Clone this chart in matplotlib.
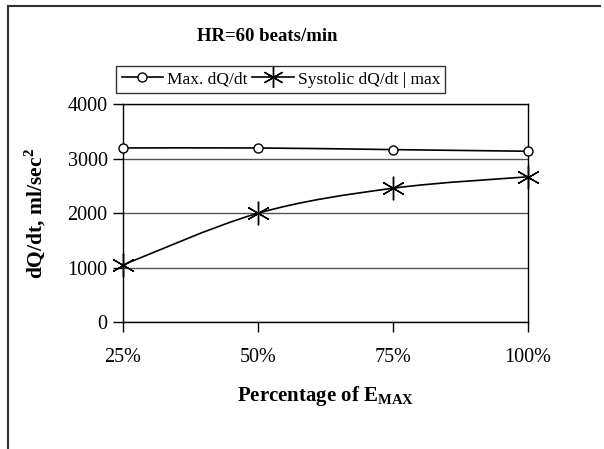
import matplotlib
matplotlib.use("Agg")
import matplotlib.pyplot as plt
from matplotlib.path import Path
from matplotlib.patches import PathPatch
from matplotlib.lines import Line2D
import numpy as np

plt.rcParams['font.family'] = ['Liberation Serif', 'DejaVu Serif']
plt.rcParams['mathtext.fontset'] = 'custom'
plt.rcParams['mathtext.rm'] = 'Liberation Serif'
plt.rcParams['mathtext.bf'] = 'Liberation Serif:bold'

# data
categories = ['25%', '50%', '75%', '100%']
max_dqdt = [3200, 3200, 3170, 3140]
systolic_dqdt = [1050, 2000, 2460, 2670]


def smooth_path(xs, ys):
    # excel-like smoothed line: bezier segments, control points from neighbours
    xs = np.asarray(xs, float)
    ys = np.asarray(ys, float)
    n = len(xs)
    verts = [(xs[0], ys[0])]
    codes = [Path.MOVETO]
    for i in range(n - 1):
        p0 = np.array([xs[max(i - 1, 0)], ys[max(i - 1, 0)]])
        p1 = np.array([xs[i], ys[i]])
        p2 = np.array([xs[i + 1], ys[i + 1]])
        p3 = np.array([xs[min(i + 2, n - 1)], ys[min(i + 2, n - 1)]])
        c1 = p1 + (p2 - p0) / 6.0
        c2 = p2 - (p3 - p1) / 6.0
        verts += [tuple(c1), tuple(c2), tuple(p2)]
        codes += [Path.CURVE4] * 3
    return Path(verts, codes)


fig = plt.figure(figsize=(6.04, 4.49), dpi=100)
ax = fig.add_axes([0.2036, 0.2829, 0.6705, 0.4844])

x = np.arange(len(categories))
star = (6, 2, 0)

for ys in (max_dqdt, systolic_dqdt):
    ax.add_patch(PathPatch(smooth_path(x, ys), fill=False, ec='black', lw=1.2, zorder=3))

ax.plot(x, max_dqdt, ls='none', marker='o', ms=6.5, mfc='white', mec='black', mew=1,
        zorder=4, clip_on=False)
ax.plot(x, systolic_dqdt, ls='none', marker=star, ms=17, mec='black', mew=1,
        zorder=4, clip_on=False)

ax.set_xlim(0, 3)
ax.set_ylim(0, 4000)
ax.set_yticks([0, 1000, 2000, 3000, 4000])
ax.set_xticks(x)
ax.set_xticklabels(categories)
ax.yaxis.grid(True, color='#555555', lw=1)
ax.set_axisbelow(True)
for s in ax.spines.values():
    s.set_color('black')
    s.set_linewidth(1)
ax.tick_params(axis='both', direction='out', length=7, width=1, labelsize=14.5, colors='black')
ax.tick_params(axis='x', pad=12)
ax.tick_params(axis='y', pad=4)

ax.set_xlabel(r'Percentage of E$_{\mathbf{MAX}}$', fontsize=15, fontweight='bold', labelpad=12)
ax.set_ylabel(r'dQ/dt, ml/sec$^{\mathbf{2}}$', fontsize=15.5, fontweight='bold', labelpad=14)

fig.text(0.443, 0.918, 'HR=60 beats/min', ha='center', va='center', fontsize=13.5, fontweight='bold')

handles = [
    Line2D([], [], color='black', lw=1.2, marker='o', ms=6.5, mfc='white', mec='black'),
    Line2D([], [], color='black', lw=1.2, marker=star, ms=15, mec='black'),
]
leg = fig.legend(handles, ['Max. dQ/dt', 'Systolic dQ/dt | max'], loc='center',
                 bbox_to_anchor=(0.465, 0.823), ncol=2, frameon=True, fancybox=False,
                 fontsize=12.5, handlelength=2.4, handletextpad=0.2, columnspacing=0.3,
                 borderpad=0.3, edgecolor='black')
leg.get_frame().set_linewidth(1)

# outer chart frame (left and top edges visible)
fig.add_artist(Line2D([8 / 604, 8 / 604], [0, 1 - 6 / 449], color='#333333', lw=1.5,
                      transform=fig.transFigure))
fig.add_artist(Line2D([8 / 604, 600 / 604], [1 - 6 / 449, 1 - 6 / 449], color='#333333', lw=1.5,
                      transform=fig.transFigure))

fig.savefig('out.png', dpi=100)
